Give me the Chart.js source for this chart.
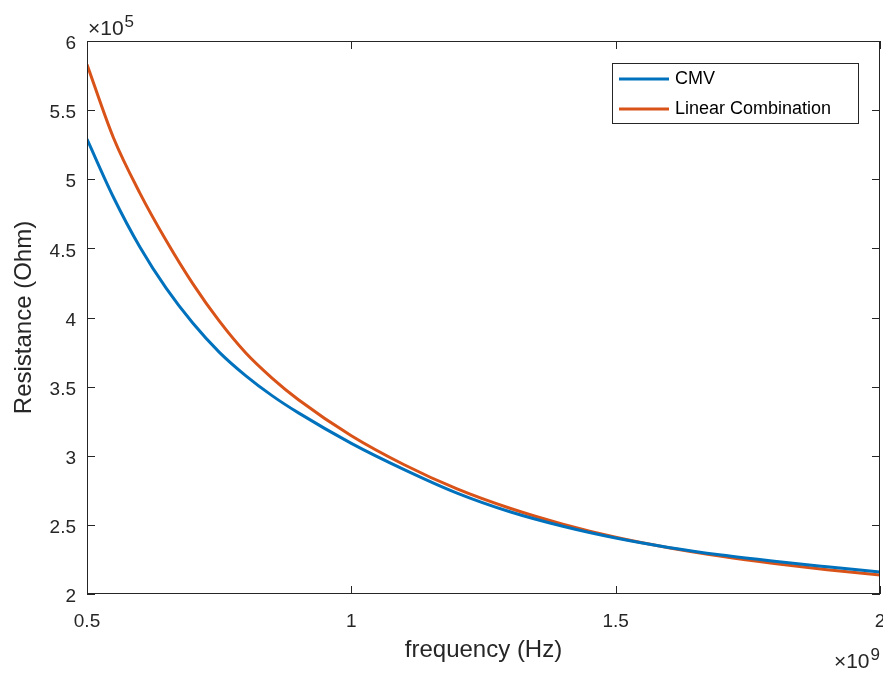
<!DOCTYPE html>
<html>
<head>
<meta charset="utf-8">
<script src="https://cdn.jsdelivr.net/npm/chart.js@4.4.1/dist/chart.umd.min.js"></script>
<style>
  html, body { margin: 0; padding: 0; background: #fff; }
  #wrap { width: 883px; height: 673px; position: relative; }
</style>
</head>
<body>
<div id="wrap"><canvas id="chart"></canvas></div>
<script>
// frequency in units of 1e9 Hz, resistance in units of 1e5 Ohm
const freq = [0.5, 0.55, 0.6, 0.65, 0.7, 0.75, 0.8, 0.85, 0.9, 1.0, 1.1, 1.2, 1.3, 1.4, 1.5, 1.6, 1.7, 1.8, 1.9, 2.0];
const cmv = [5.29, 4.87, 4.51, 4.21, 3.96, 3.75, 3.58, 3.435, 3.31, 3.09, 2.90, 2.73, 2.595, 2.49, 2.405, 2.337, 2.282, 2.237, 2.197, 2.159];
const linearComb = [5.83, 5.30, 4.90, 4.555, 4.245, 3.975, 3.745, 3.562, 3.405, 3.145, 2.935, 2.76, 2.62, 2.505, 2.41, 2.335, 2.273, 2.221, 2.176, 2.137];
const xTicks = [0.5, 1, 1.5, 2];
const yTicks = [2, 2.5, 3, 3.5, 4, 4.5, 5, 5.5, 6];
const seriesNames = ['CMV', 'Linear Combination'];

const colors = {
  blue: '#0072BD',
  orange: '#D95319',
  axis: '#262626',
};
const FONT = "'Liberation Sans', Arial, Helvetica, sans-serif";

const pts = (ys) => freq.map((x, i) => ({ x, y: ys[i] }));

// box, inward ticks, exponent labels and legend, matlab style
const matlabAxes = {
  id: 'matlabAxes',
  afterDatasetsDraw(chart) {
    const { ctx, chartArea: a, scales } = chart;
    const tl = 8;
    ctx.save();
    ctx.strokeStyle = colors.axis;
    ctx.lineWidth = 1;
    ctx.strokeRect(Math.round(a.left) + 0.5, Math.round(a.top) + 0.5,
      Math.round(a.right - a.left) - 1, Math.round(a.bottom - a.top) - 1);
    ctx.beginPath();
    xTicks.forEach((v) => {
      const px = Math.round(scales.x.getPixelForValue(v)) + 0.5;
      ctx.moveTo(px, a.bottom); ctx.lineTo(px, a.bottom - tl);
      ctx.moveTo(px, a.top); ctx.lineTo(px, a.top + tl);
    });
    yTicks.forEach((v) => {
      const py = Math.round(scales.y.getPixelForValue(v)) + 0.5;
      ctx.moveTo(a.left, py); ctx.lineTo(a.left + tl, py);
      ctx.moveTo(a.right, py); ctx.lineTo(a.right - tl, py);
    });
    ctx.stroke();

    // exponent labels
    const expo = (x, y, base, sup, alignRight) => {
      ctx.font = '21px ' + FONT;
      const wb = ctx.measureText(base).width;
      ctx.font = '17px ' + FONT;
      const ws = ctx.measureText(sup).width;
      let sx = alignRight ? x - wb - ws - 1 : x;
      ctx.fillStyle = colors.axis;
      ctx.textBaseline = 'alphabetic';
      ctx.textAlign = 'left';
      ctx.font = '21px ' + FONT;
      ctx.fillText(base, sx, y);
      ctx.font = '17px ' + FONT;
      ctx.fillText(sup, sx + wb + 1, y - 8);
    };
    expo(a.left + 1, 35, '\u00d710', '5', false);
    expo(a.right, 668, '\u00d710', '9', true);

    // legend box
    const lx = 612, ly = 63, lw = 246, lh = 60;
    ctx.fillStyle = '#fff';
    ctx.fillRect(lx, ly, lw, lh);
    ctx.strokeStyle = colors.axis;
    ctx.lineWidth = 1;
    ctx.strokeRect(lx + 0.5, ly + 0.5, lw, lh);
    ctx.font = '18px ' + FONT;
    ctx.textBaseline = 'middle';
    chart.data.datasets.forEach((ds, i) => {
      const y = ly + 16 + i * 30;
      ctx.strokeStyle = ds.borderColor;
      ctx.lineWidth = 3;
      ctx.beginPath();
      ctx.moveTo(lx + 7, y);
      ctx.lineTo(lx + 57, y);
      ctx.stroke();
      ctx.fillStyle = '#000';
      ctx.fillText(ds.label, lx + 63, y);
    });
    ctx.restore();
  },
};

new Chart(document.getElementById('chart'), {
  type: 'line',
  data: {
    datasets: [
      {
        label: seriesNames[0],
        data: pts(cmv),
        borderColor: colors.blue,
        backgroundColor: colors.blue,
        borderWidth: 3,
        pointRadius: 0,
        cubicInterpolationMode: 'monotone',
      },
      {
        label: seriesNames[1],
        data: pts(linearComb),
        borderColor: colors.orange,
        backgroundColor: colors.orange,
        borderWidth: 3,
        pointRadius: 0,
        cubicInterpolationMode: 'monotone',
      },
    ],
  },
  options: {
    responsive: true,
    maintainAspectRatio: false,
    animation: false,
    layout: { padding: { top: 41, right: 3, bottom: 0, left: 0 } },
    plugins: {
      legend: { display: false },
      tooltip: { enabled: false },
    },
    scales: {
      x: {
        type: 'linear',
        min: 0.5,
        max: 2,
        afterBuildTicks: (s) => { s.ticks = xTicks.map((v) => ({ value: v })); },
        afterFit: (s) => { s.height = 79; s.paddingLeft = 0; s.paddingRight = 0; },
        grid: { display: false, drawTicks: false, tickLength: 0 },
        border: { display: false },
        ticks: {
          padding: 16,
          color: colors.axis,
          font: { family: FONT, size: 19 },
          maxRotation: 0,
          callback: (v) => String(v),
        },
        title: {
          display: true,
          text: 'frequency (Hz)',
          color: colors.axis,
          font: { family: FONT, size: 24 },
          padding: { top: 0, bottom: 8 },
        },
      },
      y: {
        type: 'linear',
        min: 2,
        max: 6,
        afterBuildTicks: (s) => { s.ticks = yTicks.map((v) => ({ value: v })); },
        afterFit: (s) => { s.width = 87; s.paddingTop = 0; s.paddingBottom = 0; },
        grid: { display: false, drawTicks: false, tickLength: 0 },
        border: { display: false },
        ticks: {
          padding: 11,
          labelOffset: 3,
          color: colors.axis,
          font: { family: FONT, size: 19 },
          callback: (v) => String(v),
        },
        title: {
          display: true,
          text: 'Resistance (Ohm)',
          color: colors.axis,
          font: { family: FONT, size: 24 },
          padding: { top: 10, bottom: 0 },
        },
      },
    },
  },
  plugins: [matlabAxes],
});
</script>
</body>
</html>
